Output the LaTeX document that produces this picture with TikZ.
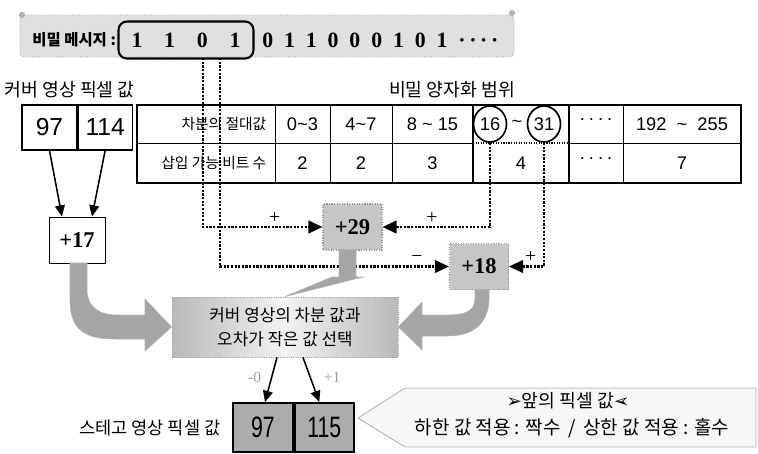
\documentclass[tikz,border=0pt]{standalone}
\usepackage{fontspec}
\usepackage{graphicx}
\setmainfont{Liberation Sans}
\newfontfamily\kr{Noto Sans CJK KR}
\newfontfamily\tms{Liberation Serif}
\newfontfamily\tallsans{Liberation Sans}[FakeStretch=0.72]
\newfontfamily\dejavu{DejaVu Sans}
\usetikzlibrary{shapes.geometric, arrows.meta, positioning, calc}
\definecolor{stegogray}{RGB}{172,172,172}
\definecolor{fatgray}{RGB}{165,165,165}
\definecolor{bannergray}{RGB}{224,224,224}
\newcommand{\px}{0.025cm}
\newcommand{\fs}[1]{\fontsize{#1}{#1}\selectfont}
\tikzset{
  %% ---- boxes ----
  pixcell/.style   = {rectangle, draw, line width=0.8pt, inner sep=0pt,
                      minimum width=#1*\px, minimum height=45*\px,
                      font=\fs{17.5}},
  pixcell/.default = 55,
  stegocell/.style = {rectangle, draw, line width=1.3pt, fill=stegogray,
                      inner sep=0pt, minimum width=#1*\px,
                      minimum height=49*\px, font=\tallsans\fs{21}},
  stegocell/.default = 60,
  sumbox/.style    = {rectangle, draw=gray!80, densely dotted,
                      line width=0.8pt, fill=gray!45, inner sep=0pt,
                      minimum width=59*\px, minimum height=46*\px,
                      font=\tms\bfseries\fs{16}},
  startbox/.style  = {rectangle, draw, line width=0.6pt, fill=white,
                      inner sep=0pt, minimum width=56*\px,
                      minimum height=46*\px, font=\tms\bfseries\fs{16}},
  selbox/.style    = {rectangle, draw=gray!70, densely dotted,
                      line width=0.6pt, left color=gray!55,
                      right color=gray!55, middle color=gray!10,
                      minimum width=226*\px, minimum height=60*\px,
                      align=center, font=\kr\fontsize{12}{17}\selectfont},
  bitbox/.style    = {rectangle, rounded corners=6pt, draw,
                      line width=1.5pt, minimum width=135*\px,
                      minimum height=37*\px, inner sep=0pt,
                      font=\tms\bfseries\fs{15.5}},
  ring/.style      = {ellipse, draw, line width=1.2pt, inner sep=0pt,
                      minimum width=33*\px, minimum height=36*\px,
                      font=\fs{13}},
  %% ---- texts ----
  heading/.style   = {font=\kr\fs{13}, inner sep=1pt},
  tabkr/.style     = {font=\kr\fs{10.5}, anchor=east, inner sep=1pt},
  tabtxt/.style    = {font=\fs{13}, inner sep=1pt},
  sign/.style      = {font=\tms\fs{14}, inner sep=2pt},
  edgelbl/.style   = {font=\tms\fs{11}, text=gray!75, inner sep=1pt},
  %% ---- arrows ----
  thinarrow/.style = {-{Triangle[length=8pt,width=7pt]}, line width=1.1pt},
  dotline/.style   = {densely dotted, line width=1.6pt,
                      -{Triangle[length=10pt,width=9pt]}},
  fatarrow/.style  = {fill=fatgray, draw=gray!60, line width=0.4pt},
  banner/.style    = {fill=bannergray, draw=gray!65, densely dotted,
                      line width=0.7pt, rounded corners=3pt},
  callout/.style   = {fill=gray!6, draw=gray!60, line width=0.6pt},
}
\begin{document}
\begin{tikzpicture}[x=\px, y=-\px]
  \useasboundingbox (0,0) rectangle (758,454);

  %% Secret message banner
  \draw[banner] (20,15) rectangle (514,57);
  \fill[gray!60] (22,15) circle (2.2pt);
  \fill[gray!60] (512,13) circle (2.2pt);
  \node[font=\kr\bfseries\fs{11}, anchor=west, inner sep=0pt]
    (msglabel) at (32,40) {비밀 메시지 :};
  \node[bitbox] (secret) at (186,40) {1\quad1\quad0\quad1};
  \node[font=\tms\bfseries\fs{15.5}, anchor=west, inner sep=0pt]
    (rest) at (262,40)
    {0\enspace1\enspace1\enspace0\enspace0\enspace0\enspace1\enspace0\enspace1\enspace·\,·\,·\,·};
  \coordinate (bitA) at (203,58);
  \coordinate (bitB) at (220,58);

  %% Cover pixel values
  \node[heading, anchor=west] (coverlabel) at (3,90) {커버 영상 픽셀 값};
  \node[pixcell=55] (cov97) at (49.5,127.5) {97};
  \node[pixcell=54, anchor=west] (cov114) at (cov97.east) {114};

  %% Quantization range table
  \node[heading] (rangelabel) at (452,90) {비밀 양자화 범위};
  \draw[line width=0.6pt] (137,143) -- (473,143) (569,143) -- (741,143);
  \foreach \cx in {275,330,392,623}
    \draw[line width=0.6pt] (\cx,105) -- (\cx,183);
  \draw[densely dotted, line width=0.8pt] (473,143) -- (569,143);
  \draw[line width=1.4pt] (137,105) rectangle (741,183);
  \draw[line width=1.6pt] (473,105) rectangle (569,183);

  \node[tabkr] (diffhead) at (268,124) {차분의 절대값};
  \node[tabtxt] (r1) at (302.5,124) {0\textasciitilde3};
  \node[tabtxt] (r2) at (361,124) {4\textasciitilde7};
  \node[tabtxt] (r3) at (432.5,124) {8 \textasciitilde\ 15};
  \node[ring] (c16) at (490,124) {16};
  \node[ring] (c31) at (544,124) {31};
  \node[tabtxt] (rtilde) at (517,124) {\textasciitilde};
  \node[tabtxt] (rdots) at (596,122) {·\,·\,·\,·};
  \node[tabtxt] (r7) at (682,124) {192\ \ \textasciitilde\ \ 255};

  \node[tabkr] (bithead) at (268,163) {삽입 가능 비트 수};
  \node[tabtxt] (n1) at (302.5,163) {2};
  \node[tabtxt] (n2) at (361,163) {2};
  \node[tabtxt] (n3) at (432.5,163) {3};
  \node[tabtxt] (n4) at (521,163) {4};
  \node[tabtxt] (ndots) at (596,161) {·\,·\,·\,·};
  \node[tabtxt] (n7) at (682,163) {7};

  %% Difference and candidates
  \node[startbox] (p17) at (77,240) {+17};
  \node[sumbox] (p29) at (352.5,227) {+29};
  \node[sumbox] (p18) at (479,266.5) {+18};

  \draw[thinarrow] (cov97.south) -- ($(p17.north)+(-15,0)$);
  \draw[thinarrow] (cov114.south) -- ($(p17.north)+(15,0)$);

  \draw[dotline] (bitA) |- node[sign, pos=0.8, above] {+} (p29.west);
  \draw[dotline] (bitB) |- node[sign, pos=0.93, above] {−} (p18.west);
  \draw[dotline] (c16.south) |- node[sign, pos=0.77, above] {+} (p29.east);
  \draw[dotline] (c31.south) |- node[sign, pos=0.69, above] {+} (p18.east);

  %% Selection box and fat arrows
  \node[selbox] (sel) at (285,327) {커버 영상의 차분 값과\\오차가 작은 값 선택};

  \filldraw[fatarrow] (70,263) -- (70,300)
    .. controls (70,330) and (85,339) .. (115,339) -- (145,339)
    -- (145,351) -- (sel.west) -- (145,299) -- (145,315) -- (117,315)
    .. controls (98,315) and (87,306) .. (87,290) -- (87,263) -- cycle;
  \filldraw[fatarrow] (339,250) -- (339,277) -- (332,277) -- (sel.north)
    -- (363,277) -- (356,277) -- (356,250) -- cycle;
  \filldraw[fatarrow] (475,290) -- (475,298)
    .. controls (475,311) and (466,315) .. (447,315) -- (422,315)
    -- (422,302) -- (sel.east) -- (422,350) -- (422,336) -- (447,336)
    .. controls (477,336) and (489,320) .. (489,298) -- (489,290) -- cycle;

  %% Stego pixel values
  \node[heading, anchor=east, font=\kr\fs{12.5}] (stegolabel) at (222,428)
    {스테고 영상 픽셀 값};
  \node[stegocell=60] (stego97) at (263,427.5) {97};
  \node[stegocell=59, anchor=west] (stego115) at (stego97.east) {115};

  \draw[thinarrow] ($(sel.south)+(-8,0)$) --
    node[edgelbl, pos=0.45, left=6pt] {-0} ($(stego97.north)+(2,0)$);
  \draw[thinarrow] ($(sel.south)+(18,0)$) --
    node[edgelbl, pos=0.45, right=8pt] {+1} ($(stego115.north)+(-5,0)$);

  %% Parity note
  \draw[callout] (358,418) -- (405,388) -- (756,388) -- (756,447)
    -- (405,447) -- cycle;
  \node[font=\kr\fs{13}] (note1) at (568,401)
    {{\dejavu\fs{13}➢}앞의 픽셀 값{\dejavu\fs{13}\reflectbox{➢}}};
  \node[font=\kr\fs{13.5}] (note2) at (572,428)
    {하한 값 적용 : 짝수 \,/\, 상한 값 적용 : 홀수};

\end{tikzpicture}
\end{document}
